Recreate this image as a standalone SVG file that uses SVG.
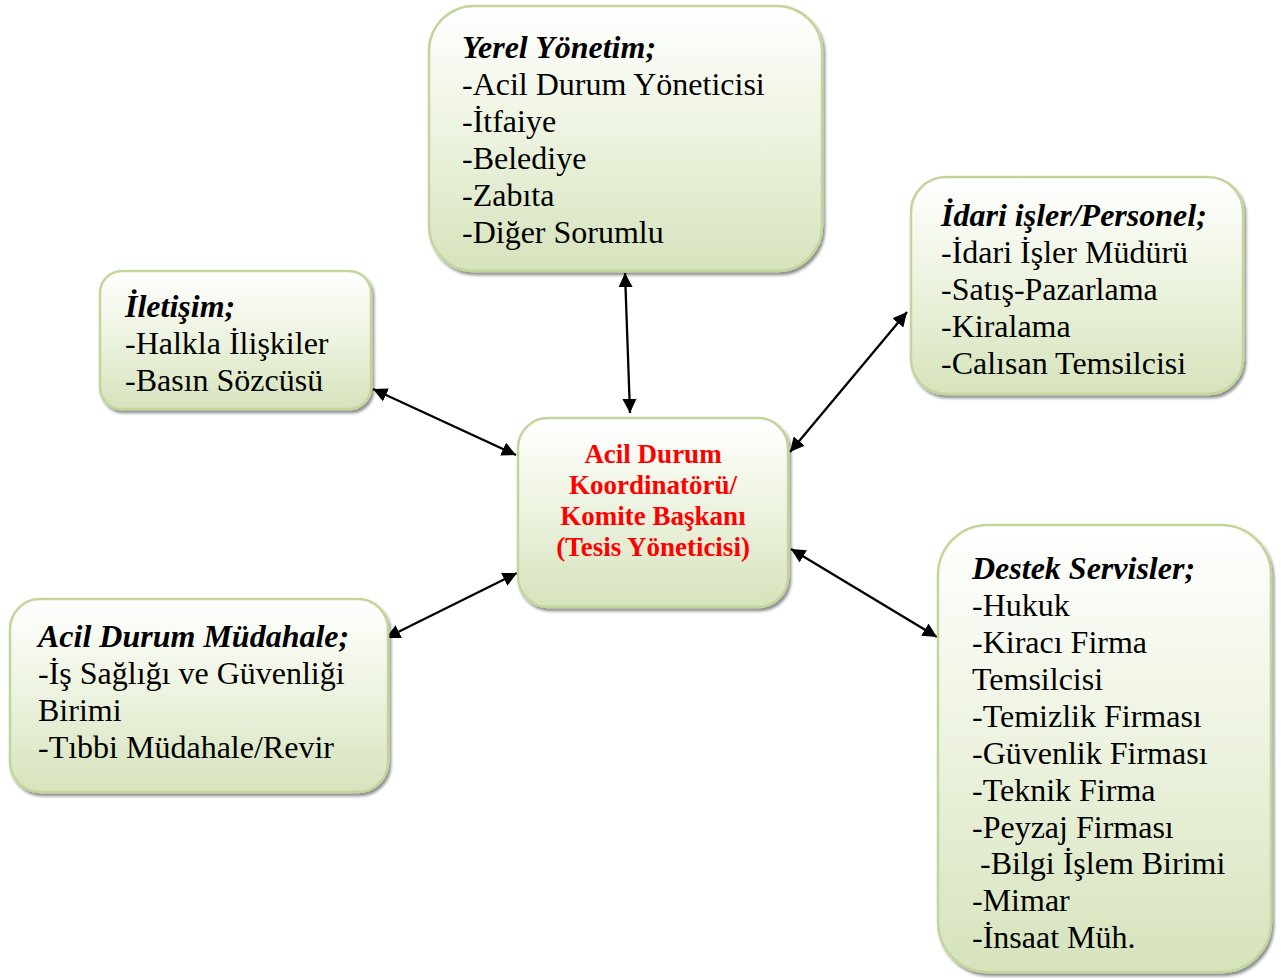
<svg xmlns="http://www.w3.org/2000/svg" width="1281" height="978" viewBox="0 0 1281 978">
  <defs>
    <linearGradient id="boxFill" x1="0" y1="0" x2="0" y2="1">
      <stop offset="0" stop-color="#ffffff"/>
      <stop offset="0.45" stop-color="#eef4e2"/>
      <stop offset="1" stop-color="#d6e3bc"/>
    </linearGradient>
    <filter id="shadow" x="-10%" y="-10%" width="120%" height="120%">
      <feGaussianBlur in="SourceAlpha" stdDeviation="1.5"/>
      <feOffset dx="2" dy="3" result="b"/>
      <feComponentTransfer><feFuncA type="linear" slope="0.45"/></feComponentTransfer>
      <feMerge><feMergeNode/><feMergeNode in="SourceGraphic"/></feMerge>
    </filter>
    <marker id="arrow" viewBox="0 0 10 10" refX="10" refY="5" markerWidth="6.2" markerHeight="6.2" orient="auto-start-reverse" markerUnits="strokeWidth">
      <path d="M0,0 L10,5 L0,10 z" fill="#000"/>
    </marker>
  </defs>
  <style>
    .box { fill: url(#boxFill); stroke: #c2d69b; stroke-width: 2.5; filter: url(#shadow); }
    .t { font-family: "Liberation Serif", "Times New Roman", serif; font-size: 32px; fill: #000; }
    .h { font-weight: bold; font-style: italic; }
    .c { font-family: "Liberation Serif", "Times New Roman", serif; font-size: 27px; font-weight: bold; fill: #ff0000; text-anchor: middle; }
    .link { stroke: #000; stroke-width: 2.3; fill: none; marker-start: url(#arrow); marker-end: url(#arrow); }
  </style>

  <!-- two-headed links from the coordinator to each unit -->
  <g id="connectors">
    <line class="link" x1="625" y1="273" x2="630" y2="413"/>
    <line class="link" x1="373" y1="389" x2="516" y2="455"/>
    <line class="link" x1="907" y1="312" x2="790" y2="452"/>
    <line class="link" x1="386" y1="638" x2="517" y2="573"/>
    <line class="link" x1="791" y1="549" x2="937" y2="637"/>
  </g>

  <g id="yerel-yonetim">
    <rect class="box" x="429" y="6" width="393" height="265" rx="45" ry="45"/>
    <text class="t h" x="462" y="58">Yerel Yönetim;</text>
    <text class="t" x="462" y="95">-Acil Durum Yöneticisi</text>
    <text class="t" x="462" y="132">-İtfaiye</text>
    <text class="t" x="462" y="169">-Belediye</text>
    <text class="t" x="462" y="206">-Zabıta</text>
    <text class="t" x="462" y="243">-Diğer Sorumlu</text>
  </g>

  <g id="iletisim">
    <rect class="box" x="100" y="271" width="271" height="138" rx="22" ry="22"/>
    <text class="t h" x="125" y="317">İletişim;</text>
    <text class="t" x="125" y="354">-Halkla İlişkiler</text>
    <text class="t" x="125" y="391">-Basın Sözcüsü</text>
  </g>

  <g id="koordinator">
    <rect class="box" x="518" y="418" width="270" height="189" rx="30" ry="30"/>
    <text class="c" x="653" y="463">Acil Durum</text>
    <text class="c" x="653" y="494">Koordinatörü/</text>
    <text class="c" x="653" y="525">Komite Başkanı</text>
    <text class="c" x="653" y="556">(Tesis Yöneticisi)</text>
  </g>

  <g id="idari-isler">
    <rect class="box" x="911" y="177" width="332" height="217" rx="35" ry="35"/>
    <text class="t h" x="941" y="226">İdari işler/Personel;</text>
    <text class="t" x="941" y="263">-İdari İşler Müdürü</text>
    <text class="t" x="941" y="300">-Satış-Pazarlama</text>
    <text class="t" x="941" y="337">-Kiralama</text>
    <text class="t" x="941" y="374">-Calısan Temsilcisi</text>
  </g>

  <g id="destek-servisler">
    <rect class="box" x="938" y="525" width="333" height="447" rx="50" ry="50"/>
    <text class="t h" x="972" y="579">Destek Servisler;</text>
    <text class="t" x="972" y="616">-Hukuk</text>
    <text class="t" x="972" y="653">-Kiracı Firma</text>
    <text class="t" x="972" y="690">Temsilcisi</text>
    <text class="t" x="972" y="727">-Temizlik Firması</text>
    <text class="t" x="972" y="764">-Güvenlik Firması</text>
    <text class="t" x="972" y="801">-Teknik Firma</text>
    <text class="t" x="972" y="838">-Peyzaj Firması</text>
    <text class="t" x="980" y="874">-Bilgi İşlem Birimi</text>
    <text class="t" x="972" y="911">-Mimar</text>
    <text class="t" x="972" y="948">-İnsaat Müh.</text>
  </g>

  <g id="acil-mudahale">
    <rect class="box" x="10" y="599" width="378" height="193" rx="30" ry="30"/>
    <text class="t h" x="38" y="647">Acil Durum Müdahale;</text>
    <text class="t" x="38" y="684">-İş Sağlığı ve Güvenliği</text>
    <text class="t" x="38" y="721">Birimi</text>
    <text class="t" x="38" y="758">-Tıbbi Müdahale/Revir</text>
  </g>
</svg>
